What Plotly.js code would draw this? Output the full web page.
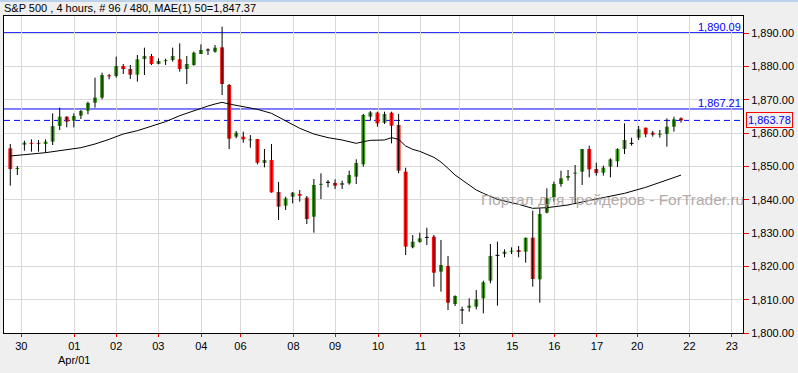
<!DOCTYPE html>
<html>
<head>
<meta charset="utf-8">
<script src="https://cdn.plot.ly/plotly-3.0.1.min.js"></script>
<style>html,body{margin:0;padding:0;background:#efefef;}#chart{width:798px;height:373px;}</style>
</head>
<body>
<div id="chart"></div>
<script>
// ---- data ----
const openP  = [1855.4,1849.2,1856.5,1857.0,1857.0,1856.7,1857.4,1862.1,1864.9,1863.7,
                1865.2,1866.7,1869.1,1870.6,1877.3,1877.1,1880.1,1879.2,1877.5,1882.2,
                1883.1,1880.7,1881.6,1881.9,1882.1,1879.2,1880.4,1883.7,1884.9,1884.4,
                1885.7,1874.4,1858.9,1858.9,1857.9,1858.2,1851.0,1851.9,1842.3,1838.2,
                1840.9,1841.7,1840.6,1834.9,1844.5,1845.2,1845.0,1844.7,1844.9,1846.9,
                1850.6,1864.9,1866.1,1863.1,1866.1,1862.4,1848.4,1825.7,1827.3,1828.7,
                1828.9,1818.4,1820.1,1808.7,1806.9,1807.6,1807.9,1810.4,1815.7,1823.3,
                1823.7,1824.5,1824.9,1824.4,1828.6,1816.1,1836.1,1840.7,1844.7,1846.6,
                1847.9,1848.4,1855.2,1849.2,1848.1,1849.9,1851.5,1855.2,1856.9,1858.6,
                1861.6,1860.1,1859.6,1859.7,1861.9,1864.4];
const highP  = [1856.7,1850.1,1857.7,1858.1,1857.9,1858.1,1865.9,1867.6,1865.0,1865.9,
                1866.9,1869.4,1876.6,1878.1,1877.7,1882.9,1880.7,1880.4,1883.4,1885.6,
                1883.7,1882.4,1882.3,1885.6,1886.9,1883.1,1884.4,1886.6,1885.4,1886.4,
                1891.9,1874.7,1860.6,1860.4,1859.4,1858.2,1855.2,1856.7,1845.3,1840.9,
                1842.3,1842.9,1841.1,1846.2,1847.9,1845.9,1846.1,1845.7,1848.7,1852.1,
                1865.7,1866.6,1866.4,1866.4,1866.4,1865.7,1849.6,1829.4,1830.1,1831.6,
                1829.4,1827.9,1823.1,1811.3,1807.9,1810.4,1812.9,1815.7,1826.7,1827.4,
                1825.1,1825.7,1826.1,1828.6,1836.7,1837.4,1843.4,1845.4,1848.7,1848.9,
                1850.4,1855.2,1856.2,1851.1,1850.2,1852.4,1855.4,1862.9,1858.6,1862.1,
                1861.6,1860.6,1860.9,1864.4,1864.9,1864.7];
const lowP   = [1844.2,1847.4,1854.7,1854.4,1854.4,1854.1,1856.4,1860.9,1861.7,1861.7,
                1864.2,1865.6,1867.6,1870.1,1876.1,1876.6,1877.7,1876.2,1875.4,1877.4,
                1880.4,1880.6,1880.4,1881.4,1878.4,1874.7,1880.2,1883.7,1883.4,1884.1,
                1871.4,1855.2,1858.4,1857.1,1855.6,1850.6,1849.7,1842.1,1833.9,1836.9,
                1838.9,1839.4,1832.7,1830.1,1840.2,1843.7,1843.2,1843.2,1844.5,1844.7,
                1849.9,1863.7,1861.9,1862.7,1856.9,1847.9,1823.4,1825.4,1827.1,1826.4,
                1813.9,1812.4,1806.9,1808.1,1802.7,1806.4,1807.1,1805.9,1814.9,1808.2,
                1822.7,1823.7,1822.7,1821.1,1813.9,1809.1,1835.9,1839.4,1843.9,1845.7,
                1838.9,1844.4,1846.7,1847.2,1847.2,1846.7,1849.8,1853.7,1856.2,1857.9,
                1858.7,1858.9,1858.6,1855.9,1860.4,1863.1];
const closeP = [1849.2,1849.5,1857.1,1856.8,1856.8,1857.4,1862.1,1864.9,1863.4,1865.1,
                1866.6,1869.0,1870.6,1877.4,1877.0,1880.1,1879.2,1877.5,1882.1,1883.1,
                1880.7,1881.6,1881.8,1883.1,1879.2,1880.7,1884.1,1884.9,1884.9,1885.6,
                1874.7,1858.3,1860.1,1858.1,1858.0,1851.1,1851.9,1842.2,1837.9,1840.4,
                1842.1,1841.2,1834.2,1844.4,1844.7,1845.2,1844.2,1844.7,1847.4,1851.0,
                1865.4,1866.2,1862.9,1865.7,1862.2,1848.7,1825.9,1827.4,1828.4,1828.7,
                1818.1,1820.4,1809.1,1811.1,1806.9,1808.2,1810.1,1815.2,1823.1,1823.3,
                1824.4,1824.6,1824.3,1828.6,1816.2,1835.7,1840.4,1844.7,1846.4,1847.1,
                1848.0,1855.2,1849.1,1848.0,1849.6,1852.1,1855.2,1857.9,1856.9,1861.1,
                1859.6,1859.5,1859.7,1861.9,1864.1,1863.78];

// MAE(1) 50 line, sampled at bar indices
const maIdx = [0,5,10,12,14,16,18,20,22,24,26,28,29,30,31,33,35,37,39,41,43,45,47,49,50,51,53,54,55,56,57,58,60,61,62,63,64,66,67,69,72,74,76,79,82,84,87,90,92,95];
const maVal = [1853.1,1854.1,1855.6,1856.7,1858.1,1859.7,1860.7,1862.1,1863.4,1865.2,1866.7,1868.1,1868.7,1869.2,1868.7,1867.95,1867.1,1865.9,1863.6,1861.4,1859.7,1858.6,1857.9,1856.9,1857.4,1857.8,1857.9,1858.6,1858.1,1856.1,1855.1,1854.5,1852.7,1851.3,1849.4,1847.4,1845.9,1842.9,1841.9,1840.1,1838.6,1837.4,1837.6,1838.4,1839.75,1840.7,1841.9,1843.7,1845.1,1847.37];

// Date ticks (positions in bar-index units) and labels
const tickPos  = [1.56,9.07,15.0,20.96,27.05,32.6,40.1,46.0,52.1,58.1,63.6,71.1,77.05,83.1,88.8,96.2,102.2];
const tickText = ['30','01','02','03','04','06','08','09','10','11','13','15','16','17','20','22','23'];

const levelHigh = 1890.09;
const levelMid  = 1867.21;
const lastPrice = 1863.78;
const titleText = 'S&P 500 , 4 hours, # 96 / 480, MAE(1) 50=1,847.37';
const watermark = 'Портал для трейдеров - ForTrader.ru';

// ---- build traces ----
const idx = openP.map((_, i) => i);
const wx = [], wy = [];
idx.forEach(i => { wx.push(i, i, null); wy.push(lowP[i], highP[i], null); });
const GREEN = '#3d9a1f', RED = '#ff1414';
const bodyBase = [], bodyH = [], bodyCol = [];
idx.forEach(i => {
  const o = openP[i], c = closeP[i];
  const lo = Math.min(o, c), hi = Math.max(o, c);
  let h = hi - lo;
  if (h < 0.3) { bodyBase.push((lo + hi) / 2 - 0.15); h = 0.3; } else bodyBase.push(lo);
  bodyH.push(h);
  bodyCol.push(c > o ? GREEN : (c < o ? RED : '#000000'));
});

const traces = [
  {type:'scatter', mode:'lines', x:maIdx, y:maVal, line:{color:'#000000', width:1}, hoverinfo:'skip'},
  {type:'scatter', mode:'lines', x:wx, y:wy, line:{color:'#000000', width:1}, hoverinfo:'skip', connectgaps:false},
  {type:'bar', x:idx, y:bodyH, base:bodyBase, width:0.56, marker:{color:bodyCol, line:{width:0}}, hoverinfo:'skip'}
];

const font = {family:'"Liberation Sans", Arial, sans-serif', size:11, color:'#000000'};
const layout = {
  width:798, height:373,
  margin:{l:4, r:55, t:16, b:40, pad:0},
  paper_bgcolor:'#efefef', plot_bgcolor:'#ffffff',
  showlegend:false, hovermode:false,
  font:font,
  title:{text:titleText, font:font, xref:'container', yref:'container', x:4/798, xanchor:'left', y:1-8.5/373, yanchor:'middle'},
  xaxis:{type:'linear', range:[-0.89, 103.78], tickmode:'array', tickvals:tickPos, ticktext:tickText,
         showgrid:true, gridcolor:'#d9d9d9', gridwidth:1, zeroline:false,
         showline:true, linecolor:'#000000', linewidth:1, mirror:true,
         ticks:'outside', ticklen:3, tickcolor:'#ff0000', tickfont:font, fixedrange:true},
  yaxis:{side:'right', range:[1800, 1895.1], dtick:10, tick0:1800, tickformat:',.2f',
         showgrid:true, gridcolor:'#d9d9d9', gridwidth:1, zeroline:false,
         showline:true, linecolor:'#000000', linewidth:1, mirror:true,
         ticks:'outside', ticklen:5, tickcolor:'#ff0000', tickfont:font, fixedrange:true},
  shapes:[
    {type:'rect', xref:'paper', yref:'paper', x0:-4/739, x1:1+55/739, y0:1+14/317, y1:1+16.5/317, fillcolor:'#bcd2ea', line:{width:0}},
    {type:'line', xref:'paper', yref:'y', x0:0, x1:1, y0:levelHigh, y1:levelHigh, line:{color:'#0000ff', width:1}, layer:'between'},
    {type:'line', xref:'paper', yref:'y', x0:0, x1:1, y0:levelMid, y1:levelMid, line:{color:'#0000ff', width:1}, layer:'between'},
    {type:'line', xref:'paper', yref:'y', x0:0, x1:1, y0:lastPrice, y1:lastPrice, line:{color:'#0000ff', width:1, dash:'6px,4px'}, layer:'between'}
  ],
  annotations:[
    {xref:'x', yref:'paper', x:tickPos[1], y:0, yshift:-27, yanchor:'middle', xanchor:'center', text:'Apr/01', showarrow:false, font:font},
    {xref:'paper', yref:'y', x:1, y:levelHigh, xanchor:'right', yanchor:'bottom', yshift:-2, text:'1,890.09', showarrow:false, font:{family:font.family, size:11, color:'#0000ff'}},
    {xref:'paper', yref:'y', x:1, y:levelMid, xanchor:'right', yanchor:'bottom', yshift:-2, text:'1,867.21', showarrow:false, font:{family:font.family, size:11, color:'#0000ff'}},
    {xref:'paper', yref:'y', x:1, y:lastPrice, xanchor:'left', yanchor:'middle', xshift:3, text:'1,863.78', showarrow:false,
     bordercolor:'#ff0000', borderwidth:1, borderpad:1, font:{family:font.family, size:11, color:'#0000ff'}},
    {xref:'x', yref:'y', x:66.4, y:1840.2, xanchor:'left', yanchor:'middle', text:watermark, showarrow:false,
     font:{family:font.family, size:15.5, color:'#a89d9d'}, opacity:0.85}
  ]
};

Plotly.newPlot('chart', traces, layout, {staticPlot:true, displayModeBar:false});
</script>
</body>
</html>
